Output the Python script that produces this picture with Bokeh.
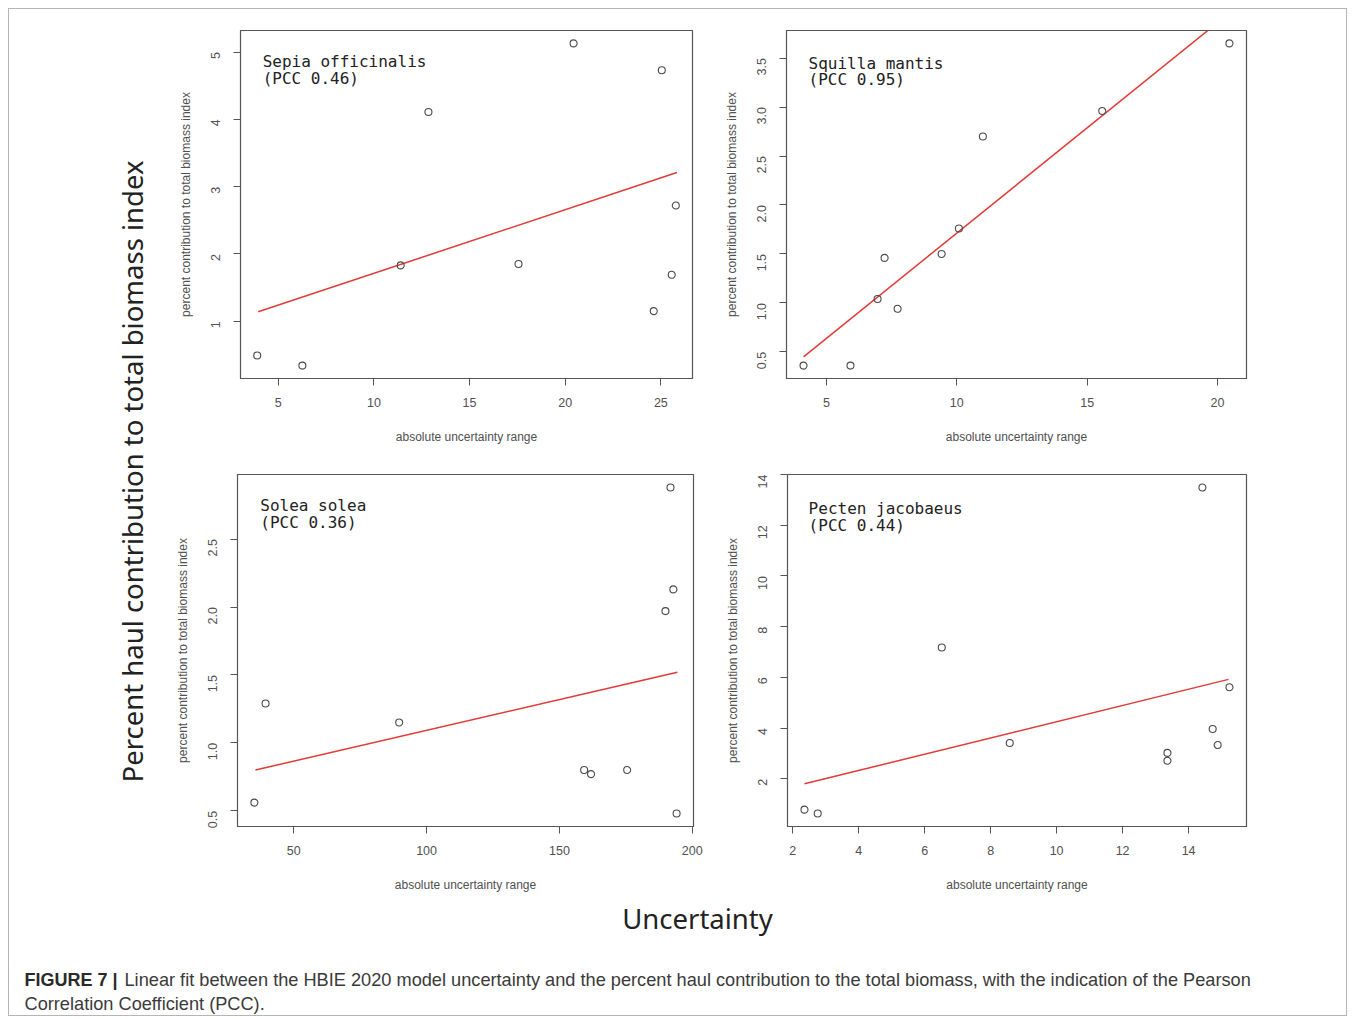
import math
from bokeh.plotting import figure
from bokeh.layouts import row, column
from bokeh.models import Range1d, FixedTicker, Label, Spacer, PrintfTickFormatter
from bokeh.embed import file_html
from bokeh.resources import INLINE

# ---------------- data ----------------
sepia_x = [3.90, 6.26, 11.40, 12.85, 17.56, 20.44, 24.63, 25.05, 25.57, 25.78]
sepia_y = [0.49, 0.34, 1.83, 4.11, 1.85, 5.13, 1.15, 4.73, 1.69, 2.72]
sepia_fit_x = [3.95, 25.84]
sepia_fit_y = [1.14, 3.21]
sepia_xticks = [5, 10, 15, 20, 25]
sepia_yticks = [1, 2, 3, 4, 5]

squilla_x = [4.12, 5.92, 6.96, 7.23, 7.73, 9.42, 10.08, 11.00, 15.58, 20.46]
squilla_y = [0.36, 0.36, 1.04, 1.46, 0.94, 1.50, 1.76, 2.70, 2.96, 3.65]
squilla_fit_x = [4.12, 20.46]
squilla_fit_y = [0.45, 3.96]
squilla_xticks = [5, 10, 15, 20]
squilla_yticks = [0.5, 1.0, 1.5, 2.0, 2.5, 3.0, 3.5]

solea_x = [35.2, 39.4, 89.7, 159.3, 161.9, 175.5, 189.9, 191.8, 192.9, 194.1]
solea_y = [0.56, 1.29, 1.15, 0.80, 0.77, 0.80, 1.97, 2.88, 2.13, 0.48]
solea_fit_x = [35.6, 194.4]
solea_fit_y = [0.80, 1.52]
solea_xticks = [50, 100, 150, 200]
solea_yticks = [0.5, 1.0, 1.5, 2.0, 2.5]

pecten_x = [2.36, 2.76, 6.52, 8.58, 13.36, 13.36, 14.42, 14.73, 14.88, 15.24]
pecten_y = [0.78, 0.63, 7.18, 3.41, 2.71, 3.02, 13.49, 3.96, 3.33, 5.61]
pecten_fit_x = [2.36, 15.21]
pecten_fit_y = [1.80, 5.92]
pecten_xticks = [2, 4, 6, 8, 10, 12, 14]
pecten_yticks = [2, 4, 6, 8, 10, 12, 14]

species = ["Sepia officinalis", "Squilla mantis", "Solea solea", "Pecten jacobaeus"]
pcc = ["0.46", "0.95", "0.36", "0.44"]

x_label = "absolute uncertainty range"
y_label = "percent contribution to total biomass index"
big_y_label = "Percent haul contribution to total biomass index"
big_x_label = "Uncertainty"
caption_bold = "FIGURE 7 |"
caption_line1 = ("Linear fit between the HBIE 2020 model uncertainty and the percent haul "
                 "contribution to the total biomass, with the indication of the Pearson")
caption_line2 = "Correlation Coefficient (PCC)."

AXC = "#555555"
PTC = "#4a4a4a"
RED = "#e23a36"


def r_range(vals):
    lo, hi = min(vals), max(vals)
    pad = 0.04 * (hi - lo)
    return Range1d(lo - pad, hi + pad)


def panel(xs, ys, fx, fy, xt, yt, yfmt, name, coef, w, h, bl, br, bt, bb, lx, ly1, ly2):
    p = figure(width=w, height=h, x_range=r_range(xs), y_range=r_range(ys),
               toolbar_location=None, output_backend="svg",
               min_border_left=bl, min_border_right=br, min_border_top=bt, min_border_bottom=bb)
    p.grid.visible = False
    p.outline_line_color = AXC
    p.outline_line_width = 1.2
    for ax in (p.xaxis[0], p.yaxis[0]):
        ax.axis_line_color = AXC
        ax.major_tick_line_color = AXC
        ax.minor_tick_line_color = None
        ax.major_tick_in = 0
        ax.major_tick_out = 7
        ax.major_label_text_font = "Liberation Sans"
        ax.major_label_text_font_size = "12.5px"
        ax.major_label_text_color = "#505050"
        ax.axis_label_text_font = "Liberation Sans"
        ax.axis_label_text_font_size = "12px"
        ax.axis_label_text_font_style = "normal"
        ax.axis_label_text_color = "#505050"
    p.xaxis[0].major_label_standoff = 12
    p.xaxis[0].axis_label_standoff = 20
    p.yaxis[0].major_label_standoff = 18
    p.yaxis[0].axis_label_standoff = 11
    p.xaxis[0].ticker = FixedTicker(ticks=xt)
    p.yaxis[0].ticker = FixedTicker(ticks=yt)
    p.yaxis[0].formatter = PrintfTickFormatter(format=yfmt)
    p.yaxis[0].major_label_orientation = math.pi / 2
    p.xaxis[0].axis_label = x_label
    p.yaxis[0].axis_label = y_label

    p.line(fx, fy, line_color=RED, line_width=1.5)
    p.scatter(xs, ys, marker="circle", size=7, fill_color=None,
              line_color=PTC, line_width=1.1)

    xr, yr = p.x_range, p.y_range
    xspan = xr.end - xr.start
    yspan = yr.end - yr.start
    for txt, fr in ((name, ly1), ("(PCC %s)" % coef, ly2)):
        p.add_layout(Label(x=xr.start + lx * xspan, y=yr.end - fr * yspan, text=txt,
                           text_font="DejaVu Sans Mono", text_font_size="16px",
                           text_color="#222222", text_baseline="middle", text_align="left"))
    return p


p1 = panel(sepia_x, sepia_y, sepia_fit_x, sepia_fit_y, sepia_xticks, sepia_yticks, "%d",
           species[0], pcc[0], 540, 447, 74, 14, 21, 78, 0.049, 0.089, 0.138)
p2 = panel(squilla_x, squilla_y, squilla_fit_x, squilla_fit_y, squilla_xticks, squilla_yticks, "%.1f",
           species[1], pcc[1], 555, 447, 80, 15, 19, 73, 0.048, 0.096, 0.142)
p3 = panel(solea_x, solea_y, solea_fit_x, solea_fit_y, solea_xticks, solea_yticks, "%.1f",
           species[2], pcc[2], 540, 445, 71, 13, 18, 75, 0.05, 0.088, 0.136)
p4 = panel(pecten_x, pecten_y, pecten_fit_x, pecten_fit_y, pecten_xticks, pecten_yticks, "%d",
           species[3], pcc[3], 555, 445, 81, 15, 18, 72, 0.046, 0.096, 0.144)

# big rotated y label
lab = figure(width=157, height=892, x_range=(0, 157), y_range=(0, 892),
             toolbar_location=None, output_backend="svg",
             x_axis_location=None, y_axis_location=None, min_border=0)
lab.grid.visible = False
lab.outline_line_color = None
lab.add_layout(Label(x=123, y=430, text=big_y_label, angle=math.pi / 2,
                     text_align="center", text_baseline="middle",
                     text_font="Noto Sans", text_font_size="27.5px", text_color="#222222"))

# bottom: big x label + caption
bot = figure(width=1337, height=114, x_range=(0, 1337), y_range=(0, 114),
             toolbar_location=None, output_backend="svg",
             x_axis_location=None, y_axis_location=None, min_border=0)
bot.grid.visible = False
bot.outline_line_color = None
bot.add_layout(Label(x=688, y=97, text=big_x_label, text_align="center", text_baseline="middle",
                     text_font="Noto Sans", text_font_size="27.5px", text_color="#222222"))
bot.add_layout(Label(x=15, y=36, text=caption_bold, text_align="left", text_baseline="middle",
                     text_font="Liberation Sans", text_font_size="18px", text_font_style="bold",
                     text_color="#2a2a2a"))
bot.add_layout(Label(x=115, y=36, text=caption_line1, text_align="left", text_baseline="middle",
                     text_font="Liberation Sans", text_font_size="18.2px", text_color="#3a3a3a"))
bot.add_layout(Label(x=15, y=12, text=caption_line2, text_align="left", text_baseline="middle",
                     text_font="Liberation Sans", text_font_size="18.2px", text_color="#3a3a3a"))

layout = column(
    row(lab, column(row(p1, p2), row(p3, p4)), Spacer(width=85, height=892)),
    bot,
    styles={"border": "1px solid #b5b5b5", "margin-left": "8px", "margin-top": "8px"},
)

open("out.html", "w").write(file_html(layout, INLINE))
